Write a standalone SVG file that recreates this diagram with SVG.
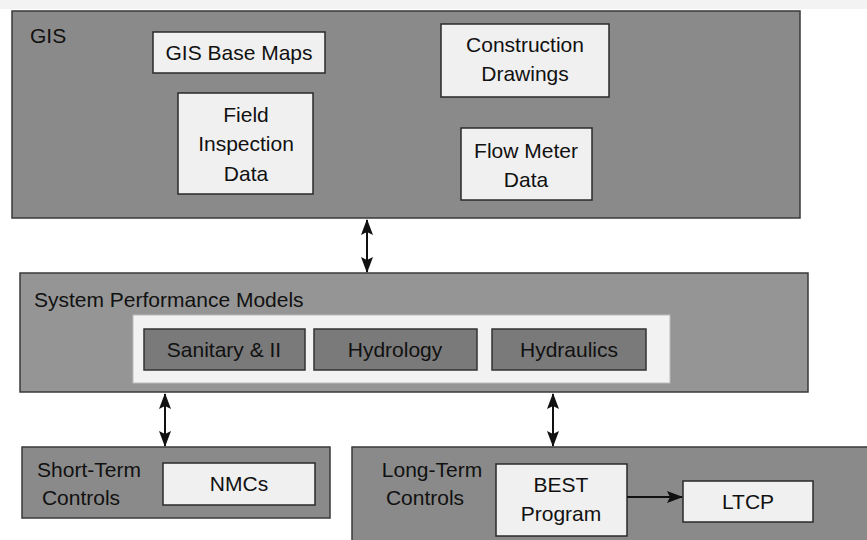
<svg xmlns="http://www.w3.org/2000/svg" width="867" height="540" viewBox="0 0 867 540">
<style>
.grp{fill:#8a8a8a;stroke:#3a3a3a;stroke-width:1.5}
.grp2{fill:#959595;stroke:#3a3a3a;stroke-width:1.5}
.box{fill:#f0f0f0;stroke:#2a2a2a;stroke-width:1.5}
.dark{fill:#7a7a7a;stroke:#333;stroke-width:1.5}
.inner{fill:#f2f2f2;stroke:#bbb;stroke-width:1}
text{font-family:"Liberation Sans",Arial,sans-serif;font-size:21px;fill:#111}
.c{text-anchor:middle}
.ln{stroke:#111;stroke-width:2;fill:none}
</style>
<defs>
<marker id="ah" viewBox="0 0 16 12" refX="15" refY="6" markerWidth="16" markerHeight="12" markerUnits="userSpaceOnUse" orient="auto-start-reverse">
<path d="M0,0 L16,6 L0,12 L3,6 Z" fill="#111"/>
</marker>
</defs>
<rect x="0" y="0" width="867" height="540" fill="#ffffff"/>
<rect x="0" y="0" width="867" height="9" fill="#f3f3f3"/>

<g id="gis">
<rect class="grp" x="12" y="11" width="788" height="207"/>
<text x="30" y="43">GIS</text>
</g>
<g id="gis-base-maps">
<rect class="box" x="153" y="32" width="172" height="41"/>
<text class="c" x="239" y="60">GIS Base Maps</text>
</g>
<g id="construction-drawings">
<rect class="box" x="441" y="24" width="168" height="73"/>
<text class="c" x="525" y="52">Construction</text>
<text class="c" x="525" y="81">Drawings</text>
</g>
<g id="field-inspection-data">
<rect class="box" x="178" y="93" width="135" height="101"/>
<text class="c" x="246" y="122">Field</text>
<text class="c" x="246" y="151">Inspection</text>
<text class="c" x="246" y="181">Data</text>
</g>
<g id="flow-meter-data">
<rect class="box" x="461" y="128" width="131" height="72"/>
<text class="c" x="526" y="158">Flow Meter</text>
<text class="c" x="526" y="187">Data</text>
</g>

<g id="system-performance-models">
<rect class="grp2" x="20" y="273" width="788" height="119"/>
<text x="34" y="307">System Performance Models</text>
<rect class="inner" x="133" y="315" width="537" height="68"/>
</g>
<g id="sanitary">
<rect class="dark" x="144" y="329" width="161" height="41"/>
<text class="c" x="224" y="357">Sanitary &amp; II</text>
</g>
<g id="hydrology">
<rect class="dark" x="314" y="329" width="163" height="41"/>
<text class="c" x="395" y="357">Hydrology</text>
</g>
<g id="hydraulics">
<rect class="dark" x="492" y="329" width="154" height="41"/>
<text class="c" x="569" y="357">Hydraulics</text>
</g>

<g id="short-term-controls">
<rect class="grp" x="22" y="447" width="308" height="71"/>
<text class="c" x="89" y="477">Short-Term</text>
<text class="c" x="81" y="505">Controls</text>
</g>
<g id="nmcs">
<rect class="box" x="163" y="463" width="152" height="42"/>
<text class="c" x="239" y="491">NMCs</text>
</g>

<g id="long-term-controls">
<rect class="grp" x="352" y="447" width="520" height="100"/>
<text class="c" x="432" y="477">Long-Term</text>
<text class="c" x="425" y="505">Controls</text>
</g>
<g id="best-program">
<rect class="box" x="496" y="464" width="131" height="72"/>
<text class="c" x="561" y="492">BEST</text>
<text class="c" x="561" y="521">Program</text>
</g>
<g id="ltcp">
<rect class="box" x="683" y="481" width="130" height="41"/>
<text class="c" x="748" y="509">LTCP</text>
</g>

<g id="connectors">
<line class="ln" x1="367" y1="220" x2="367" y2="272" marker-start="url(#ah)" marker-end="url(#ah)"/>
<line class="ln" x1="165" y1="394" x2="165" y2="446" marker-start="url(#ah)" marker-end="url(#ah)"/>
<line class="ln" x1="553" y1="394" x2="553" y2="446" marker-start="url(#ah)" marker-end="url(#ah)"/>
<line class="ln" x1="627" y1="497" x2="682" y2="497" stroke-width="1.5" marker-end="url(#ah)"/>
</g>
</svg>
